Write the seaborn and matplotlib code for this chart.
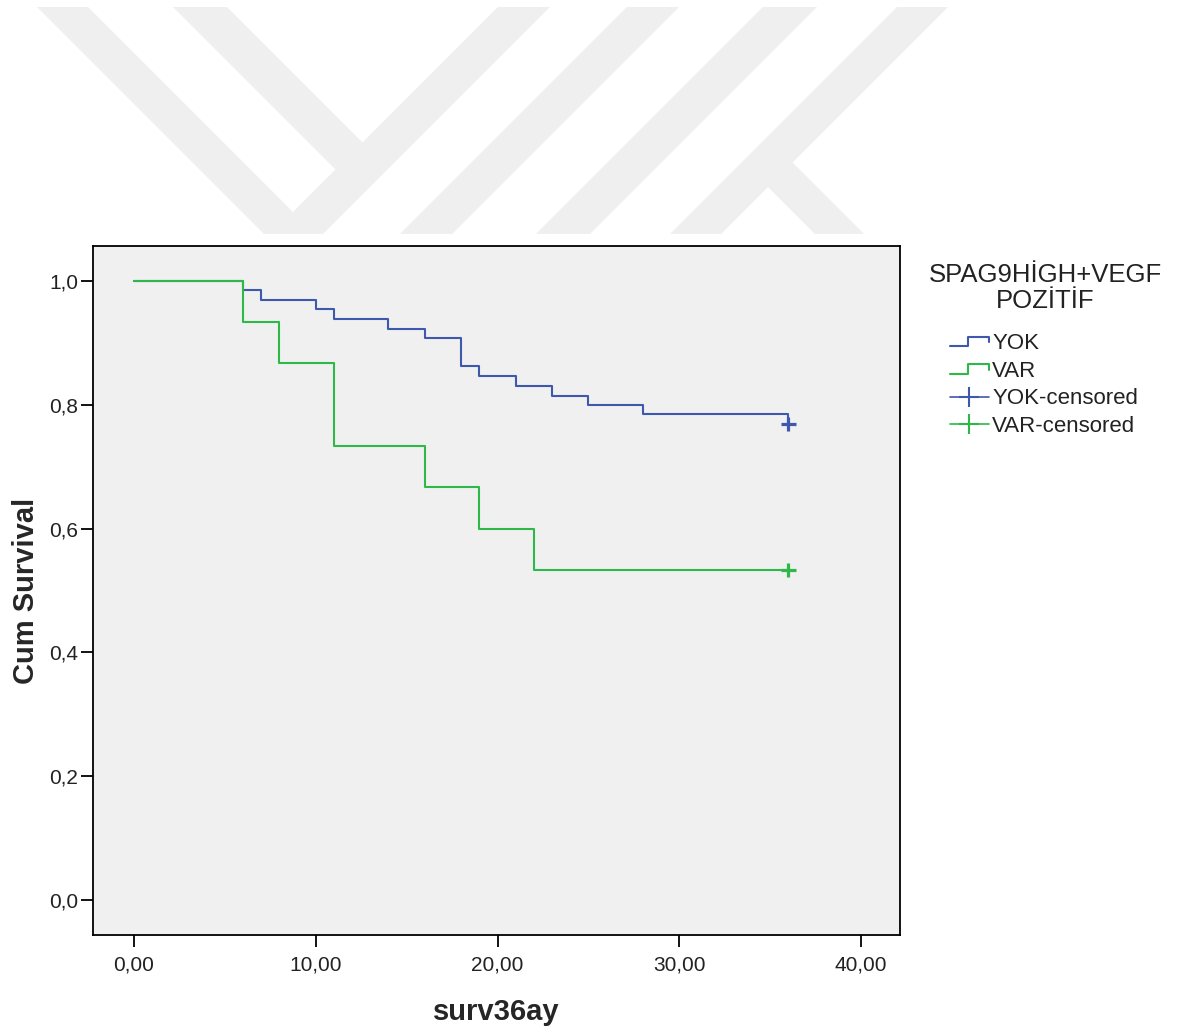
"""Kaplan-Meier style survival curves, SPAG9HIGH+VEGF POZITIF groups."""
import numpy as np
import pandas as pd
import seaborn as sns
from matplotlib import pyplot as plt
from matplotlib.legend_handler import HandlerBase
from matplotlib.lines import Line2D
from matplotlib.patches import Polygon
from matplotlib.ticker import FuncFormatter

# survival steps
yok_times = [0, 6, 7, 10, 11, 14, 16, 18, 19, 21, 23, 25, 28, 36]
yok_surv = [1.0, 0.985, 0.969, 0.954, 0.938, 0.923, 0.908, 0.862, 0.846,
            0.831, 0.815, 0.800, 0.785, 0.769]
var_times = [0, 6, 8, 11, 16, 19, 22, 36]
var_surv = [1.0, 0.933, 0.867, 0.733, 0.667, 0.600, 0.533, 0.533]

groups = ["YOK", "VAR"]
censor_times = [36, 36]
censor_surv = [0.769, 0.533]

colors = {"YOK": "#3e58ac", "VAR": "#2eb848"}

# watermark bands (page pixels): descending bands use x - y, rising use x + y
desc_bands = [(30, 81)]
rise_bands = [(505, 557), (634, 686), (770, 824), (904, 955)]


class StepHandler(HandlerBase):
    def create_artists(self, legend, orig_handle, xdescent, ydescent,
                       width, height, fontsize, trans):
        xs = np.array([0, 0.45, 0.45, 1.0, 1.0]) * width - xdescent
        ys = np.array([0.2, 0.2, 0.8, 0.8, 0.45]) * height - ydescent
        line = Line2D(xs, ys, color=orig_handle.get_color(),
                      lw=orig_handle.get_linewidth(), transform=trans)
        return [line]


def main() -> None:
    sns.set_style("white")
    plt.rcParams["font.family"] = ["Liberation Sans", "DejaVu Sans"]

    W, H = 1177, 1029
    fig = plt.figure(figsize=(W / 100, H / 100), dpi=100)

    # watermark layer
    bg = fig.add_axes([0, 0, 1, 1], zorder=-10)
    bg.set_xlim(0, W)
    bg.set_ylim(H, 0)
    bg.axis("off")
    y0, y1 = 7, 234
    wm = "#efefef"
    polys = []
    for a, b in desc_bands:
        polys.append([(a + y0, y0), (b + y0, y0), (b + y1, y1), (a + y1, y1)])
    for c, d in rise_bands:
        polys.append([(c - y0, y0), (d - y0, y0), (d - y1, y1), (c - y1, y1)])
    # inner arm of the Y, ends inside the first rising band
    polys.append([(173, y0), (227, y0), (375, 155), (348, 182)])
    # K branch, starts inside the last rising band
    polys.append([(755.5, 174.5), (780, 150), (630 + y1, y1), (581 + y1, y1)])
    for p in polys:
        bg.add_patch(Polygon(p, closed=True, color=wm, lw=0))

    ax = fig.add_axes([93 / W, 1 - 935 / H, (900 - 93) / W, (935 - 246) / H])
    ax.set_facecolor("#f0f0f0")

    df = pd.concat([
        pd.DataFrame({"time": yok_times, "surv": yok_surv, "group": "YOK"}),
        pd.DataFrame({"time": var_times, "surv": var_surv, "group": "VAR"}),
    ])
    sns.lineplot(data=df, x="time", y="surv", hue="group", palette=colors,
                 estimator=None, drawstyle="steps-post", lw=1.5,
                 legend=False, ax=ax)
    sns.scatterplot(x=censor_times, y=censor_surv, hue=groups, palette=colors,
                    marker="+", s=110, linewidth=2.3, legend=False, ax=ax,
                    zorder=5)

    ax.set_xlim(-2.256, 42.14)
    ax.set_ylim(-0.0565, 1.0565)
    ax.set_xticks([0, 10, 20, 30, 40])
    ax.set_yticks([0, 0.2, 0.4, 0.6, 0.8, 1.0])
    ax.xaxis.set_major_formatter(FuncFormatter(lambda v, p: f"{v:.2f}".replace(".", ",")))
    ax.yaxis.set_major_formatter(FuncFormatter(lambda v, p: f"{v:.1f}".replace(".", ",")))
    ax.tick_params(axis="both", direction="out", length=8.5, width=1.3,
                   color="black", labelsize=15, labelcolor="#222222",
                   bottom=True, left=True)
    ax.tick_params(axis="y", pad=2)
    ax.tick_params(axis="x", pad=6)
    for s in ax.spines.values():
        s.set_color("black")
        s.set_linewidth(1.3)
    ax.grid(False)

    ax.set_xlabel("surv36ay", fontsize=21, fontweight="bold", labelpad=17)
    ax.set_ylabel("Cum Survival", fontsize=21, fontweight="bold", labelpad=7)

    # legend
    fig.text(1045 / W, 1 - 288 / H, "SPAG9HİGH+VEGF\nPOZİTİF", ha="center",
             va="center", fontsize=18.5, color="#222222", linespacing=1.1)
    handles = [
        Line2D([], [], color=colors["YOK"], lw=1.5),
        Line2D([], [], color=colors["VAR"], lw=1.5),
        Line2D([], [], color=colors["YOK"], lw=1.2, marker="+", markersize=14, mew=1.5),
        Line2D([], [], color=colors["VAR"], lw=1.2, marker="+", markersize=14, mew=1.5),
    ]
    labels = ["YOK", "VAR", "YOK-censored", "VAR-censored"]
    fig.legend(handles, labels, loc="upper left",
               bbox_to_anchor=(950 / W, 1 - 333 / H), frameon=False,
               fontsize=16, borderpad=0, borderaxespad=0, handlelength=1.75,
               handletextpad=0.15, labelspacing=0.3, numpoints=1,
               labelcolor="#222222",
               handler_map={handles[0]: StepHandler(), handles[1]: StepHandler()})

    fig.savefig("out.png", dpi=100)
    plt.close(fig)


if __name__ == "__main__":
    main()
